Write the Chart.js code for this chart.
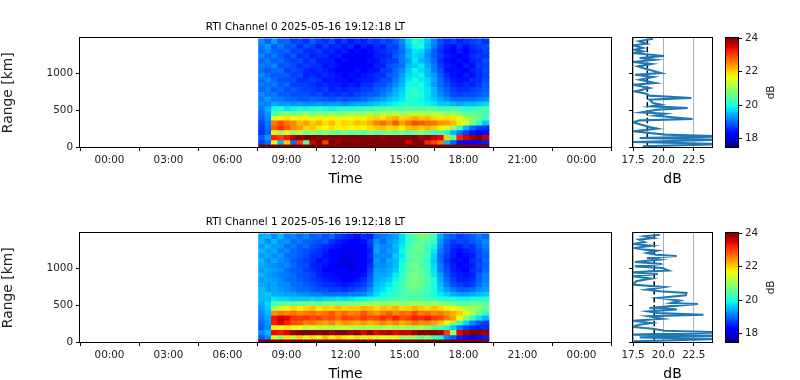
<!DOCTYPE html>
<html>
<head>
<meta charset="utf-8">
<title>RTI</title>
<script src="https://cdn.jsdelivr.net/npm/chart.js@4"></script>
<style>
  html, body { margin: 0; padding: 0; background: #fff; overflow: hidden; }
  #page { position: relative; width: 800px; height: 380px; overflow: hidden; }
  canvas { position: absolute; }
</style>
</head>
<body>
<div id="page"></div>
<script>
const titles = ["RTI Channel 0 2025-05-16 19:12:18 LT", "RTI Channel 1 2025-05-16 19:12:18 LT"];
const timeTicks = [0, 3, 6, 9, 12, 15, 18, 21, 24];
const timeLabels = ["00:00", "03:00", "06:00", "09:00", "12:00", "15:00", "18:00", "21:00", "00:00"];
const rangeTicks = [0, 500, 1000];
const profileTicks = [17.5, 20, 22.5];
const colorbarTicks = [18, 20, 22, 24];

// column centres in hours
const timeHours = [7.75, 8.075, 8.4, 8.725, 9.05, 9.375, 9.7, 10.025, 10.35, 10.675, 11, 11.325,
  11.65, 11.975, 12.3, 12.625, 12.95, 13.275, 13.6, 13.925, 14.25, 14.575, 14.9, 15.225,
  15.55, 15.875, 16.2, 16.525, 16.85, 17.175, 17.5, 17.825, 18.15, 18.475, 18.8, 19.125];
// row edges in km, top to bottom
const rangeEdges = [1473, 1405, 1340, 1275, 1210, 1145, 1080, 1015, 950, 885, 820, 755,
  690, 625, 560, 495, 430, 365, 300, 235, 170, 100, 40, 0];

const rtiChannel0 = [
  [19.2,18.9,19.3,18.9,19.0,18.7,18.8,18.6,18.9,18.7,18.6,18.8,18.5,18.7,18.4,18.6,18.5,18.7,18.6,18.8,18.7,18.9,19.2,19.7,20.1,19.9,19.6,19.2,18.8,18.6,18.7,18.5,18.6,18.7,18.8,18.6],
  [19.1,19.3,18.9,19.1,18.8,18.9,18.6,18.8,18.7,18.5,18.7,18.5,18.6,18.4,18.6,18.3,18.5,18.4,18.6,18.5,18.8,18.7,19.1,19.6,19.9,20.0,19.5,19.1,18.7,18.5,18.4,18.6,18.4,18.6,18.7,18.8],
  [19.0,19.2,19.0,18.9,19.0,18.7,18.8,18.6,18.6,18.7,18.5,18.6,18.4,18.5,18.3,18.4,18.2,18.4,18.5,18.6,18.7,18.8,19.0,19.4,19.8,19.7,19.3,18.9,18.6,18.4,18.3,18.5,18.3,18.5,18.6,18.7],
  [19.2,18.9,19.1,18.9,18.7,18.9,18.6,18.7,18.5,18.6,18.6,18.4,18.5,18.3,18.3,18.2,18.3,18.3,18.5,18.5,18.6,18.9,19.1,19.5,19.7,19.6,19.2,18.9,18.7,18.5,18.4,18.3,18.4,18.6,18.7,18.6],
  [19.0,19.1,18.9,19.0,18.8,18.7,18.8,18.6,18.7,18.5,18.5,18.5,18.3,18.4,18.2,18.3,18.2,18.4,18.4,18.6,18.7,18.7,19.1,19.3,19.8,19.5,19.3,19.0,18.6,18.4,18.3,18.4,18.3,18.5,18.6,18.8],
  [19.1,19.0,19.2,18.8,18.9,18.8,18.6,18.7,18.6,18.6,18.4,18.5,18.4,18.2,18.3,18.2,18.3,18.3,18.5,18.5,18.8,18.9,19.0,19.5,19.6,19.8,19.4,19.1,18.7,18.5,18.4,18.3,18.5,18.4,18.7,18.7],
  [19.0,18.9,19.0,19.0,18.7,18.8,18.7,18.6,18.5,18.6,18.5,18.4,18.3,18.3,18.2,18.4,18.3,18.4,18.4,18.7,18.7,19.0,19.2,19.6,19.9,19.7,19.5,19.1,18.8,18.4,18.4,18.4,18.3,18.5,18.6,18.8],
  [19.2,19.0,18.9,18.9,18.9,18.7,18.8,18.5,18.6,18.5,18.6,18.5,18.4,18.2,18.4,18.3,18.4,18.5,18.6,18.6,18.9,19.0,19.3,19.7,19.8,19.9,19.5,19.3,18.9,18.6,18.4,18.3,18.5,18.4,18.6,18.7],
  [19.0,19.2,19.0,18.8,18.8,18.8,18.6,18.6,18.7,18.6,18.4,18.5,18.4,18.4,18.3,18.4,18.5,18.5,18.6,18.8,18.8,19.1,19.4,19.8,20.0,19.8,19.7,19.4,19.0,18.7,18.5,18.4,18.4,18.6,18.6,18.8],
  [19.1,19.0,19.1,18.9,19.0,18.7,18.7,18.7,18.6,18.5,18.6,18.5,18.5,18.4,18.5,18.4,18.6,18.6,18.8,18.8,19.0,19.2,19.5,19.9,19.9,20.0,19.7,19.3,19.0,18.8,18.6,18.5,18.6,18.5,18.7,18.9],
  [19.0,19.1,18.9,19.0,18.8,18.9,18.8,18.7,18.7,18.6,18.7,18.5,18.6,18.5,18.6,18.6,18.7,18.7,18.9,19.0,19.1,19.4,19.6,20.0,20.1,19.9,19.8,19.5,19.1,18.9,18.7,18.6,18.6,18.7,18.8,18.9],
  [19.2,19.0,19.1,18.9,18.9,18.8,18.8,18.8,18.7,18.8,18.6,18.7,18.6,18.7,18.6,18.7,18.8,18.9,18.9,19.1,19.3,19.5,19.7,20.0,20.2,20.0,19.8,19.5,19.2,19.0,18.8,18.7,18.8,18.8,18.9,19.0],
  [19.1,19.3,19.1,19.1,19.0,19.0,18.9,18.9,19.0,18.9,18.9,18.8,18.9,18.8,18.9,18.9,19.0,19.1,19.2,19.3,19.5,19.6,19.8,20.0,20.0,19.9,19.8,19.6,19.4,19.2,19.0,19.0,19.0,19.0,19.1,19.2],
  [19.2,19.1,19.4,19.3,19.3,19.2,19.3,19.2,19.2,19.3,19.2,19.3,19.3,19.2,19.3,19.4,19.4,19.5,19.6,19.7,19.8,19.9,20.0,20.1,20.0,20.0,19.9,19.8,19.6,19.6,19.5,19.4,19.5,19.5,19.6,19.7],
  [19.1,19.4,19.9,20.0,19.8,19.9,20.0,19.9,20.0,20.1,20.0,19.9,20.0,20.1,20.0,20.1,20.2,20.2,20.4,20.3,20.5,20.4,20.3,20.5,20.4,20.3,20.5,20.4,20.2,20.3,20.4,20.2,20.0,20.1,20.3,20.4],
  [19.0,19.3,20.3,20.6,20.8,20.6,20.7,20.9,20.6,20.8,20.7,20.9,20.7,20.8,21.0,20.8,20.9,21.1,20.9,21.2,21.0,21.2,21.0,21.1,21.3,21.2,21.0,21.2,21.1,20.9,21.0,20.8,20.5,20.6,20.5,20.3],
  [18.9,19.2,21.4,21.7,21.9,21.6,21.8,21.7,21.5,21.8,21.6,21.7,21.5,21.7,21.6,21.8,21.7,21.9,22.0,21.8,22.1,22.2,21.9,22.0,22.2,22.0,22.1,21.9,21.8,21.9,21.8,21.5,21.2,20.8,20.6,20.2],
  [18.8,19.1,22.6,22.9,22.6,22.5,22.1,22.3,22.0,22.2,21.9,22.1,21.8,22.0,21.9,22.1,22.0,22.2,22.5,22.7,22.4,22.8,22.3,22.6,22.9,22.8,22.7,22.6,22.4,22.3,22.1,21.8,21.4,20.7,20.1,19.6],
  [18.7,19.0,22.8,23.1,22.8,22.4,22.3,21.9,22.1,21.8,21.7,21.9,21.7,21.8,21.6,21.8,21.7,21.9,22.0,22.1,21.9,22.0,21.8,22.1,22.2,22.0,22.2,22.0,21.7,21.5,20.9,20.2,19.5,19.0,18.7,18.6],
  [18.6,18.9,21.5,21.0,21.4,20.9,21.2,20.7,20.9,20.5,20.8,20.6,20.4,20.7,20.5,20.6,20.4,20.7,20.5,20.6,20.8,20.5,20.7,20.4,20.6,20.8,20.5,20.2,20.4,20.0,19.5,19.0,18.7,18.4,18.3,18.4],
  [18.9,19.3,23.2,23.0,23.3,23.7,23.9,24,24,23.9,24,24,23.9,24,24,24,24,24,24,23.9,24,24,24,24,24,23.8,23.9,23.6,23.4,22.0,20.5,23.2,23.5,23.8,24,23.6],
  [18.7,19.0,21.5,19.5,22.0,19.0,23.0,20.5,23.6,24,23.0,24,23.8,24,24,23.9,24,24,24,24,24,24,24,23.5,23.9,24,23.2,23.0,22.6,19.5,18.9,18.4,18.3,18.2,18.4,18.5],
  [24,24,24,24,24,24,24,24,24,24,24,24,24,24,24,24,24,24,24,24,24,24,24,24,24,24,24,24,24,24,24,24,24,24,24,24]
];
const rtiChannel1 = [
  [19.4,19.5,19.2,19.5,19.1,19.2,19.0,19.2,18.9,19.0,18.8,19.0,18.7,18.6,18.5,18.4,18.6,18.5,19.0,19.1,19.2,19.3,19.7,20.2,20.5,20.7,20.6,20.3,19.4,19.0,18.9,18.7,18.8,18.9,19.1,19.0],
  [19.5,19.2,19.5,19.2,19.3,19.0,19.1,18.9,18.9,18.8,18.9,18.6,18.5,18.4,18.3,18.3,18.4,18.7,19.2,19.0,19.3,19.4,19.7,20.1,20.4,20.6,20.4,20.2,19.3,18.9,18.7,18.8,18.7,18.9,19.0,19.2],
  [19.3,19.5,19.3,19.3,19.0,19.1,18.9,19.0,18.8,18.7,18.6,18.5,18.4,18.3,18.2,18.3,18.3,18.6,19.3,19.2,19.2,19.5,19.8,20.2,20.6,20.5,20.3,19.9,19.2,18.8,18.6,18.5,18.7,18.6,18.9,19.1],
  [19.5,19.3,19.4,19.1,19.2,19.0,18.9,18.8,18.7,18.6,18.5,18.3,18.3,18.1,18.2,18.1,18.3,18.5,19.4,19.1,19.3,19.4,19.9,20.3,20.5,20.6,20.2,19.8,19.1,18.8,18.5,18.4,18.5,18.6,18.8,19.0],
  [19.3,19.4,19.2,19.3,19.0,19.0,18.9,18.8,18.6,18.6,18.4,18.3,18.2,18.1,18.1,18.2,18.2,18.6,19.2,19.2,19.2,19.6,19.8,20.4,20.6,20.4,20.3,19.7,19.0,18.7,18.5,18.3,18.4,18.5,18.8,18.9],
  [19.5,19.2,19.4,19.2,19.1,18.9,18.8,18.7,18.6,18.4,18.5,18.3,18.2,18.0,18.1,18.1,18.3,18.5,19.3,19.1,19.4,19.5,19.9,20.3,20.5,20.5,20.1,19.6,19.0,18.6,18.4,18.4,18.3,18.6,18.7,19.0],
  [19.4,19.3,19.2,19.1,19.2,19.0,18.8,18.8,18.5,18.5,18.4,18.3,18.1,18.1,18.0,18.2,18.2,18.6,19.2,19.2,19.3,19.5,20.0,20.5,20.7,20.4,20.2,19.7,19.1,18.7,18.5,18.3,18.4,18.5,18.8,18.9],
  [19.3,19.4,19.3,19.2,19.0,18.9,18.9,18.7,18.6,18.5,18.3,18.3,18.2,18.2,18.1,18.2,18.3,18.7,19.3,19.3,19.4,19.6,20.0,20.4,20.6,20.6,20.2,19.8,19.1,18.8,18.5,18.4,18.3,18.6,18.7,19.0],
  [19.5,19.3,19.2,19.1,19.1,19.0,18.8,18.8,18.7,18.5,18.4,18.4,18.3,18.2,18.2,18.3,18.4,18.8,19.4,19.4,19.5,19.8,20.1,20.6,20.7,20.5,20.3,19.8,19.3,18.9,18.6,18.5,18.4,18.5,18.9,19.1],
  [19.3,19.4,19.3,19.2,19.0,19.0,18.9,18.8,18.7,18.6,18.5,18.4,18.4,18.3,18.3,18.4,18.6,18.9,19.4,19.5,19.6,19.9,20.2,20.5,20.8,20.6,20.4,20.0,19.4,19.0,18.7,18.5,18.5,18.6,18.9,19.1],
  [19.4,19.3,19.4,19.2,19.2,19.0,19.0,18.9,18.8,18.7,18.6,18.6,18.5,18.4,18.5,18.6,18.7,19.0,19.5,19.6,19.8,20.0,20.3,20.6,20.7,20.6,20.3,20.0,19.5,19.1,18.8,18.7,18.6,18.7,19.0,19.2],
  [19.5,19.3,19.4,19.3,19.2,19.1,19.0,19.0,18.9,18.8,18.8,18.7,18.7,18.6,18.7,18.8,18.9,19.2,19.6,19.7,19.9,20.1,20.3,20.5,20.6,20.5,20.3,20.0,19.6,19.3,19.1,18.9,18.9,19.0,19.2,19.3],
  [19.5,19.6,19.4,19.4,19.3,19.3,19.2,19.2,19.1,19.1,19.0,19.0,19.0,19.0,19.1,19.1,19.2,19.4,19.7,19.9,20.0,20.1,20.3,20.4,20.4,20.3,20.2,20.0,19.8,19.6,19.4,19.3,19.3,19.4,19.5,19.6],
  [19.5,19.5,19.8,19.7,19.7,19.6,19.6,19.6,19.7,19.6,19.7,19.7,19.8,19.7,19.8,19.9,19.9,20.0,20.1,20.2,20.3,20.3,20.4,20.4,20.4,20.4,20.3,20.3,20.1,20.0,20.0,19.9,19.9,20.0,20.0,20.1],
  [19.4,19.7,20.4,20.5,20.6,20.5,20.7,20.7,20.8,20.6,20.8,20.9,20.7,20.8,20.9,20.8,21.0,21.0,21.1,20.9,21.0,21.1,20.9,21.0,21.1,21.0,20.9,21.0,20.9,20.8,20.7,20.6,20.5,20.6,20.6,20.5],
  [19.3,19.6,21.0,21.4,21.7,21.9,21.7,21.9,22.1,21.8,22.0,21.9,22.1,21.9,22.0,22.0,22.2,22.1,21.9,22.1,22.0,22.2,21.9,22.0,22.2,22.0,21.9,22.1,21.9,21.7,21.6,21.4,21.2,21.1,20.9,20.6],
  [19.2,19.5,22.4,22.6,22.5,22.7,22.5,22.6,22.7,22.5,22.6,22.8,22.5,22.7,22.5,22.6,22.8,22.6,22.4,22.6,22.8,22.5,22.7,22.6,22.9,22.6,22.7,22.5,22.6,22.4,22.2,22.0,21.5,21.1,20.6,20.2],
  [19.1,19.4,23.3,23.6,23.4,23.1,23.0,23.1,22.9,23.0,22.8,22.9,22.7,23.0,22.9,22.8,23.0,22.8,22.9,23.1,22.9,23.2,22.9,23.0,23.2,23.1,23.3,23.0,22.9,22.6,22.3,21.7,20.9,20.2,19.8,19.5],
  [19.0,19.3,23.2,23.5,23.2,22.9,22.8,22.5,22.6,22.4,22.3,22.5,22.2,22.4,22.3,22.2,22.4,22.2,22.3,22.5,22.3,22.5,22.2,22.4,22.6,22.4,22.5,22.3,22.0,21.6,21.0,20.3,19.7,19.2,18.9,18.7],
  [18.9,19.2,21.8,21.5,21.8,21.5,21.6,21.3,21.5,21.2,21.3,21.1,21.2,21.3,21.1,21.2,21.0,21.2,21.0,21.1,21.2,21.0,21.2,20.9,21.0,21.1,20.8,20.6,20.5,20.0,19.6,19.1,18.8,18.6,18.5,18.6],
  [19.2,19.5,23.4,23.3,23.5,23.8,24,24,24,23.9,24,23.8,24,24,23.7,24,23.5,23.9,23.4,23.6,23.7,23.4,23.6,23.5,23.8,24,23.9,24,23.8,23.0,21.0,23.4,23.8,24,24,23.8],
  [18.9,19.2,21.5,20.8,21.8,21.2,22.0,21.5,21.9,21.6,22.1,21.7,22.0,21.8,21.6,21.9,21.5,21.8,21.4,21.6,21.5,21.7,20.9,21.0,20.9,20.5,20.8,20.2,20.0,19.2,18.9,18.5,18.4,18.3,18.4,18.5],
  [24,24,24,24,24,24,24,24,24,24,24,24,24,24,24,24,24,24,24,24,24,24,24,24,24,24,24,24,24,24,24,24,24,24,24,24]
];

const profileRange0 = [1464,1428,1396,1374,1338,1315,1293,1270,1230,1203,1180,1149,1122,1090,1068,1000,977,946,910,865,842,797,752,721,694,662,640,595,572,550,527,505,468,450,423,378,360,333,302,270,248,212,167,144,122,99,68,40,9];
const profileDb0 = [19.14,18.0,18.6,17.5,18.3,17.65,18.3,17.5,20.05,18.05,19.3,17.5,19.0,17.9,18.3,19.8,17.65,19.15,18.05,19.35,17.5,18.85,17.65,18.6,18.85,22.3,18.85,19.15,19.8,19.0,22.0,19.55,18.2,20.15,19.3,22.4,18.05,17.5,18.2,18.85,19.5,17.5,20.15,25,18.05,25,17.5,25,18.3];
const profileRange1 = [1450,1428,1405,1383,1351,1324,1302,1270,1248,1234,1203,1180,1162,1135,1113,1081,1054,1022,1000,968,941,919,887,856,820,775,743,707,685,662,631,595,559,527,514,482,459,441,414,392,369,347,315,288,257,234,203,180,153,131,99,86,63,41,9];
const profileDb1 = [19.7,18.45,19.15,18.0,18.45,17.5,19.0,17.65,18.45,19.5,18.65,19.4,21.1,18.65,19.65,17.65,19.9,17.65,19.9,20.4,17.5,19.55,17.55,19.0,17.75,17.5,20.05,18.6,19.7,21.9,21.85,19.65,21.35,20.65,22.85,20.4,18.85,21.1,18.75,19.55,23.3,18.8,19.9,17.5,19.0,18.0,17.5,19.15,20.1,25,17.5,25,18.05,25,17.5];
const profileMean = [18.68, 19.25];
const dbRange = [17.5, 24];

const FONT = "'DejaVu Sans'";
const page = document.getElementById("page");

function jet(v) {
  const t = Math.min(1, Math.max(0, (v - dbRange[0]) / (dbRange[1] - dbRange[0])));
  const piece = function (pts) {
    for (let i = 1; i < pts.length; i++) {
      if (t <= pts[i][0]) {
        const a = pts[i - 1], b = pts[i];
        return a[1] + ((t - a[0]) / (b[0] - a[0])) * (b[1] - a[1]);
      }
    }
    return pts[pts.length - 1][1];
  };
  const r = piece([[0, 0], [0.35, 0], [0.66, 1], [0.89, 1], [1, 0.5]]);
  const g = piece([[0, 0], [0.125, 0], [0.375, 1], [0.64, 1], [0.91, 0], [1, 0]]);
  const b = piece([[0, 0.5], [0.11, 1], [0.34, 1], [0.65, 0], [1, 0]]);
  return "rgb(" + Math.round(r * 255) + "," + Math.round(g * 255) + "," + Math.round(b * 255) + ")";
}

function addCanvas(left, top, width, height) {
  const c = document.createElement("canvas");
  c.width = width;
  c.height = height;
  c.style.left = left + "px";
  c.style.top = top + "px";
  page.appendChild(c);
  return c.getContext("2d");
}

// matplotlib style frame on all four sides
const framePlugin = {
  id: "frame",
  afterDraw: function (chart) {
    const a = chart.chartArea, ctx = chart.ctx;
    ctx.save();
    ctx.strokeStyle = "#000";
    ctx.lineWidth = 1;
    ctx.strokeRect(Math.round(a.left) - 0.5, Math.round(a.top) - 0.5, Math.round(a.width) + 1, Math.round(a.height) + 1);
    ctx.restore();
  },
};

function tickAxis(values, labels, extra) {
  return Object.assign({
    type: "linear",
    afterBuildTicks: function (axis) { axis.ticks = values.map(function (v) { return { value: v }; }); },
    border: { display: false },
    grid: { drawOnChartArea: false, tickLength: 4, tickColor: "#000", tickWidth: 1 },
    ticks: {
      autoSkip: false, maxRotation: 0, color: "#222", padding: 3,
      font: { family: FONT, size: 10.4 },
      callback: function (v, i) { return labels ? labels[i] : ""; },
    },
  }, extra);
}

function rtiPanel(top, title, rows) {
  const datasets = rows.map(function (row, r) {
    return {
      data: row.map(function (v, c) { return { x: timeHours[c], y: [rangeEdges[r + 1], rangeEdges[r]] }; }),
      backgroundColor: row.map(jet),
      borderWidth: 0,
      barPercentage: 1,
      categoryPercentage: 1,
      grouped: false,
      inflateAmount: 0.5,
    };
  });
  new Chart(addCanvas(0, top, 640, 190), {
    type: "bar",
    data: { datasets: datasets },
    plugins: [framePlugin],
    options: {
      responsive: false,
      animation: false,
      layout: { padding: { right: 29 } },
      plugins: {
        legend: { display: false },
        tooltip: { enabled: false },
        title: {
          display: true, text: title, color: "#000",
          font: { family: FONT, size: 10.4, weight: "normal" },
          padding: { top: 21, bottom: 5 },
        },
      },
      scales: {
        x: tickAxis(timeTicks, timeLabels, {
          min: 0, max: 24,
          afterFit: function (s) { s.height = 43; },
          title: { display: true, text: "Time", color: "#000", font: { family: FONT, size: 13.9 }, padding: { top: 4, bottom: 2 } },
        }),
        y: tickAxis(rangeTicks, rangeTicks, {
          min: 0, max: 1473,
          afterFit: function (s) { s.width = 80; },
          title: { display: true, text: "Range [km]", color: "#222", font: { family: FONT, size: 13.9 }, padding: { top: 0, bottom: 4 } },
        }),
      },
    },
  });
}

function profilePanel(top, ranges, values, mean) {
  const line = ranges.map(function (km, i) { return { x: values[i], y: km }; });
  new Chart(addCanvas(613, top, 109, 190), {
    type: "scatter",
    data: {
      datasets: [
        { data: line, showLine: true, pointRadius: 0, borderColor: "#1f77b4", borderWidth: 2.1, tension: 0 },
        { data: [{ x: mean, y: 0 }, { x: mean, y: 1473 }], showLine: true, pointRadius: 0, borderColor: "#000", borderWidth: 1.5, borderDash: [5.5, 2.4] },
      ],
    },
    plugins: [framePlugin],
    options: {
      responsive: false,
      animation: false,
      layout: { padding: { top: 38, right: 10 } },
      plugins: { legend: { display: false }, tooltip: { enabled: false } },
      scales: {
        x: tickAxis(profileTicks, profileTicks.map(function (v) { return v.toFixed(1); }), {
          min: dbRange[0], max: dbRange[1],
          afterFit: function (s) { s.height = 43; },
          grid: { drawOnChartArea: true, color: "#b0b0b0", lineWidth: 1, tickLength: 4, tickColor: "#000" },
          title: { display: true, text: "dB", color: "#000", font: { family: FONT, size: 13.9 }, padding: { top: 4, bottom: 2 } },
        }),
        y: tickAxis(rangeTicks, null, {
          min: 0, max: 1473,
          afterFit: function (s) { s.width = 20; },
        }),
      },
    },
  });
}

const dbLabelPlugin = {
  id: "dbLabel",
  afterDraw: function (chart) {
    const a = chart.chartArea, ctx = chart.ctx;
    ctx.save();
    ctx.translate(a.right + 33.5, (a.top + a.bottom) / 2);
    ctx.rotate(-Math.PI / 2);
    ctx.fillStyle = "#222";
    ctx.textAlign = "center";
    ctx.textBaseline = "middle";
    ctx.font = "10.4px " + FONT;
    ctx.fillText("dB", 0, 0);
    ctx.restore();
  },
};

function colorbarPanel(top) {
  new Chart(addCanvas(716, top, 84, 190), {
    type: "bar",
    data: {
      labels: ["dB"],
      datasets: [{
        data: [dbRange],
        barPercentage: 1,
        categoryPercentage: 1,
        borderWidth: 0,
        backgroundColor: function (context) {
          const a = context.chart.chartArea;
          if (!a) return "#000";
          const g = context.chart.ctx.createLinearGradient(0, a.bottom, 0, a.top);
          for (let i = 0; i <= 64; i++) {
            g.addColorStop(i / 64, jet(dbRange[0] + (i / 64) * (dbRange[1] - dbRange[0])));
          }
          return g;
        },
      }],
    },
    plugins: [framePlugin, dbLabelPlugin],
    options: {
      responsive: false,
      animation: false,
      layout: { padding: { top: 38, left: 10, bottom: 0, right: 0 } },
      plugins: { legend: { display: false }, tooltip: { enabled: false } },
      scales: {
        x: { display: true, ticks: { display: false }, grid: { display: false }, border: { display: false }, afterFit: function (s) { s.height = 43; } },
        y: tickAxis(colorbarTicks, colorbarTicks, {
          position: "right", min: dbRange[0], max: dbRange[1],
          afterFit: function (s) { s.width = 62; },
        }),
      },
    },
  });
}

document.addEventListener("DOMContentLoaded", function () {
  rtiPanel(0, titles[0], rtiChannel0);
  rtiPanel(195, titles[1], rtiChannel1);
  profilePanel(0, profileRange0, profileDb0, profileMean[0]);
  profilePanel(195, profileRange1, profileDb1, profileMean[1]);
  colorbarPanel(0);
  colorbarPanel(195);
});
</script>
</body>
</html>
